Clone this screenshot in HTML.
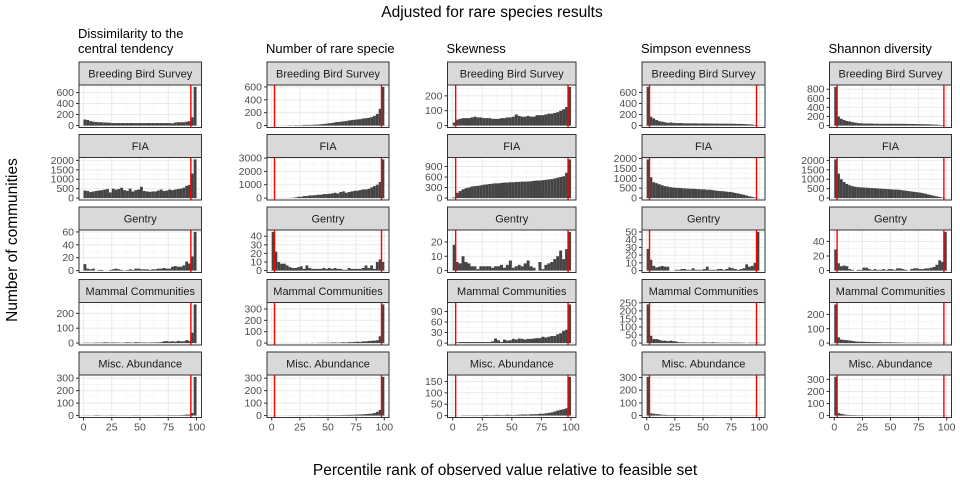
<!DOCTYPE html>
<html><head><meta charset="utf-8"><style>
html,body{margin:0;padding:0;background:#fff;}
svg{display:block;font-family:"Liberation Sans",Arial,sans-serif;}
</style></head><body>
<svg id="chart" width="960" height="480" viewBox="0 0 960 480" xmlns="http://www.w3.org/2000/svg">
<text x="492" y="17" font-size="15.5" text-anchor="middle" fill="#000">Adjusted for rare species results</text>
<text transform="translate(17,240) rotate(-90)" font-size="15.5" text-anchor="middle" fill="#000">Number of communities</text>
<text x="505" y="475" font-size="15.5" text-anchor="middle" fill="#000">Percentile rank of observed value relative to feasible set</text>
<g id="panels"></g>
</svg>
<script>
const binLefts = [0,2.5,5,7.5,10,12.5,15,17.5,20,22.5,25,27.5,30,32.5,35,37.5,40,42.5,45,47.5,50,52.5,55,57.5,60,62.5,65,67.5,70,72.5,75,77.5,80,82.5,85,87.5,90,92.5,95,97.5];
const binWidth = 2.5;
const xTicks = [0,25,50,75,100];
const datasets = ["Breeding Bird Survey","FIA","Gentry","Mammal Communities","Misc. Abundance"];
const metrics = ["Dissimilarity to the|central tendency","Number of rare specie","Skewness","Simpson evenness","Shannon diversity"];
const redLines = [[95],[2.5,97.5],[2.5,97.5],[2.5,97.5],[2.5,97.5]];

// Column 1: Dissimilarity
const dissBBS = [110,100,80,70,65,60,60,55,55,50,45,45,45,45,45,45,45,45,45,45,45,45,45,45,45,45,45,45,45,45,45,40,55,60,60,60,70,80,150,700];
const dissFIA = [400,380,320,350,380,400,420,450,480,300,500,450,480,550,420,380,500,350,420,450,600,380,350,330,350,350,400,450,380,400,450,420,450,480,500,550,650,700,1300,2050];
const dissGentry = [10,3,2,3,0,1,1,0,0,1,2,3,2,1,0,1,2,1,3,3,2,2,2,1,2,2,3,3,4,3,3,6,7,6,6,8,14,11,22,60];
const dissMammal = [2,2,1,2,3,2,3,5,4,3,4,3,3,2,3,5,4,3,6,5,3,4,3,3,4,4,5,6,12,13,10,12,9,15,12,12,20,15,70,260];
const dissMisc = [1,1,1,1,3,2,1,1,1,2,2,1,1,1,1,1,1,2,2,2,1,1,1,1,1,2,2,2,2,2,3,3,3,3,4,5,8,8,20,310];
// Column 2: Number of rare species
const rareBBS = [0,0,0,0,0,0,5,0,5,5,5,10,10,10,12,15,15,20,25,30,35,40,50,55,60,65,70,80,85,90,95,100,110,115,120,130,150,180,260,600];
const rareFIA = [0,0,0,0,0,0,10,20,50,100,100,150,150,200,200,220,250,250,300,300,320,350,400,350,450,500,400,450,500,550,550,600,650,650,700,800,900,1000,1200,2900];
const rareGentry = [45,22,10,8,8,6,4,3,3,4,5,2,6,3,2,2,2,2,3,2,3,2,3,2,2,1,1,3,2,2,2,2,3,6,3,6,2,10,13,10];
const rareMammal = [0,0,0,0,0,0,0,0,0,0,0,0,1,0,2,0,2,2,3,3,3,5,5,3,5,7,5,8,8,10,12,10,15,15,18,20,22,25,60,340];
const rareMisc = [0,0,0,0,0,0,1,0,1,1,1,1,1,2,1,2,2,2,2,3,3,3,3,4,4,5,5,6,6,7,8,9,10,12,14,15,20,30,45,310];
// Column 3: Skewness
const skewBBS = [20,40,45,50,50,50,55,60,55,55,50,50,50,45,45,45,50,50,55,55,60,75,65,60,60,65,60,60,70,70,70,75,80,80,85,90,100,110,125,260];
const skewFIA = [20,150,200,250,280,300,330,340,350,360,380,390,400,410,420,420,430,440,440,450,450,460,460,470,470,470,480,490,500,500,510,520,530,540,560,580,600,620,720,1100];
const skewGentry = [18,6,5,10,6,5,3,3,1,3,3,3,3,2,3,3,4,2,4,7,2,3,4,3,5,7,3,2,0,6,1,4,5,6,8,10,14,8,15,27];
const skewMammal = [0,2,3,3,3,3,3,3,3,3,3,3,3,5,13,8,3,10,7,8,12,10,13,12,10,12,12,13,14,14,18,16,18,20,20,25,28,35,38,110];
const skewMisc = [0,0,0,1,1,1,1,1,1,1,2,3,2,2,3,3,2,2,4,3,2,3,4,5,5,4,6,6,6,8,8,10,12,14,18,22,25,28,32,170];
// Column 4: Simpson evenness
const simpBBS = [700,160,130,100,80,70,60,50,55,50,45,45,45,40,40,40,40,40,38,38,38,38,36,36,36,35,35,35,34,34,33,32,30,30,28,25,22,20,10,5];
const simpFIA = [1950,1050,800,750,700,650,600,580,550,530,520,510,500,490,480,470,470,460,450,440,440,420,420,400,380,360,350,340,320,310,290,260,230,200,170,130,90,60,30,10];
const simpGentry = [28,14,6,4,5,6,5,5,0,0,1,1,2,2,1,1,3,1,1,1,2,5,1,1,1,2,2,1,2,4,3,2,1,2,3,8,5,6,10,50];
const simpMammal = [240,45,25,25,20,15,15,12,15,12,10,5,5,5,3,3,3,3,3,3,5,3,3,5,3,3,2,2,2,2,3,3,3,2,2,0,2,2,2,2];
const simpMisc = [305,18,15,12,10,6,6,4,4,4,4,3,3,3,3,3,2,2,2,2,2,2,2,2,2,1,1,1,1,1,1,1,1,1,1,1,1,1,1,1];
// Column 5: Shannon diversity
const shanBBS = [850,200,150,120,100,90,75,65,55,50,45,45,45,45,40,40,40,40,40,40,40,40,40,40,38,38,36,35,35,32,32,30,30,28,25,22,20,15,10,5];
const shanFIA = [2050,1300,1000,850,750,680,630,600,580,570,560,550,540,530,520,510,500,490,480,470,460,450,450,430,410,390,370,350,330,310,290,260,230,190,160,120,90,60,30,10];
const shanGentry = [29,10,6,7,6,2,1,0,1,1,4,4,2,1,2,1,1,2,1,2,2,1,3,3,2,1,0,2,3,3,2,2,3,3,4,5,8,14,12,53];
const shanMammal = [270,40,25,22,20,18,15,12,10,10,10,8,8,7,7,6,6,5,5,5,5,4,4,3,3,2,2,2,2,3,2,2,2,2,1,1,2,1,1,2];
const shanMisc = [320,20,15,10,6,5,4,4,3,3,3,2,2,2,2,2,2,2,2,2,2,1,1,1,1,1,1,1,1,1,1,1,1,1,1,1,1,1,1,1];

const tickDiss = [[0,200,400,600],[0,500,1000,1500,2000],[0,20,40,60],[0,100,200],[0,100,200,300]];
const tickRare = [[0,200,400,600],[0,1000,2000,3000],[0,10,20,30,40],[0,100,200,300],[0,100,200,300]];
const tickSkew = [[0,100,200],[0,300,600,900],[0,10,20],[0,30,60,90],[0,50,100,150]];
const tickSimp = [[0,200,400,600],[0,500,1000,1500,2000],[0,10,20,30,40,50],[0,50,100,150,200,250],[0,100,200,300]];
const tickShan = [[0,200,400,600,800],[0,500,1000,1500,2000],[0,20,40],[0,100,200],[0,100,200,300]];

const seriesGrid = [
  [dissBBS,dissFIA,dissGentry,dissMammal,dissMisc],
  [rareBBS,rareFIA,rareGentry,rareMammal,rareMisc],
  [skewBBS,skewFIA,skewGentry,skewMammal,skewMisc],
  [simpBBS,simpFIA,simpGentry,simpMammal,simpMisc],
  [shanBBS,shanFIA,shanGentry,shanMammal,shanMisc]];
const tickGrid = [tickDiss,tickRare,tickSkew,tickSimp,tickShan];

// layout (not data)
const colLayout = [
  {L:79,R:201.5,x0:83.5,x100:196.5},
  {L:267,R:389,x0:271.7,x100:384.3},
  {L:447.5,R:576,x0:452.7,x100:571},
  {L:642,R:765,x0:646.7,x100:759.3},
  {L:829.5,R:951.5,x0:834.3,x100:946.7}];
const NS="http://www.w3.org/2000/svg";
const root=document.getElementById('panels');
function mk(tag,attrs,parent){const e=document.createElementNS(NS,tag);for(const k in attrs)e.setAttribute(k,attrs[k]);(parent||root).appendChild(e);return e;}

for(let c=0;c<5;c++){
  const lay=colLayout[c];
  const xs=v=>lay.x0+(v/100)*(lay.x100-lay.x0);
  // column title
  const lines=metrics[c].split('|');
  lines.forEach((ln,i)=>{
    const t=mk('text',{x:lay.L-1,y:(lines.length===2?38:53)+i*15,'font-size':13,fill:'#000'});
    
    
    t.textContent=ln;
  });
  for(let r=0;r<5;r++){
    const vals=seriesGrid[c][r], ticks=tickGrid[c][r];
    const sTop=62+r*72.5, pTop=sTop+23, pBot=pTop+42.5;
    const M=Math.max(...vals);
    const lo=-0.05*M, hi=1.05*M;
    const ys=v=>pBot-(v-lo)/(hi-lo)*(pBot-pTop);
    const g=mk('g',{});
    
    
    mk('rect',{x:lay.L,y:pTop,width:lay.R-lay.L,height:pBot-pTop,fill:'#fff'},g);
    // minor grid
    for(let i=0;i<xTicks.length-1;i++){
      const xm=xs((xTicks[i]+xTicks[i+1])/2);
      mk('line',{x1:xm,x2:xm,y1:pTop,y2:pBot,stroke:'#f2f2f2','stroke-width':0.6},g);
    }
    for(let i=0;i<ticks.length;i++){
      const a=ticks[i], b=i<ticks.length-1?ticks[i+1]:ticks[i]+(ticks[1]-ticks[0]);
      const ym=ys((a+b)/2);
      if(ym>pTop) mk('line',{x1:lay.L,x2:lay.R,y1:ym,y2:ym,stroke:'#f2f2f2','stroke-width':0.6},g);
    }
    xTicks.forEach(v=>mk('line',{x1:xs(v),x2:xs(v),y1:pTop,y2:pBot,stroke:'#ebebeb','stroke-width':1.1},g));
    ticks.forEach(v=>mk('line',{x1:lay.L,x2:lay.R,y1:ys(v),y2:ys(v),stroke:'#ebebeb','stroke-width':1.1},g));
    // bars
    vals.forEach((v,i)=>{
      if(v<=0) return;
      const x1=xs(binLefts[i]), x2=xs(binLefts[i]+binWidth);
      const b=mk('rect',{x:x1,y:ys(v),width:x2-x1,height:ys(0)-ys(v),fill:'#444'},g);
      
      
    });
    // red lines
    redLines[c].forEach(v=>{
      const l=mk('line',{x1:xs(v),x2:xs(v),y1:pTop,y2:pBot,stroke:'#ff0000','stroke-width':1.4},g);
      
      
    });
    mk('rect',{x:lay.L,y:pTop,width:lay.R-lay.L,height:pBot-pTop,fill:'none',stroke:'#333','stroke-width':1},g);
    // strip
    const st=mk('rect',{x:lay.L,y:sTop,width:lay.R-lay.L,height:23,fill:'#d9d9d9',stroke:'#333','stroke-width':1},g);
    
    
    const stt=mk('text',{x:(lay.L+lay.R)/2,y:sTop+15.5,'font-size':11,'text-anchor':'middle',fill:'#1a1a1a'},g);
    
    
    stt.textContent=datasets[r];
    // y ticks
    ticks.forEach(v=>{
      mk('line',{x1:lay.L-3,x2:lay.L,y1:ys(v),y2:ys(v),stroke:'#333','stroke-width':1},g);
      const t=mk('text',{x:lay.L-5,y:ys(v)+3.5,'font-size':10.5,'text-anchor':'end',fill:'#4d4d4d'},g);
      
      
      t.textContent=v;
    });
    if(r===4){
      xTicks.forEach(v=>{
        mk('line',{x1:xs(v),x2:xs(v),y1:pBot,y2:pBot+3,stroke:'#333','stroke-width':1},g);
        const t=mk('text',{x:xs(v),y:pBot+13,'font-size':10.5,'text-anchor':'middle',fill:'#4d4d4d'},g);
        
        
        t.textContent=v;
      });
    }
  }
}
</script>
</body></html>
